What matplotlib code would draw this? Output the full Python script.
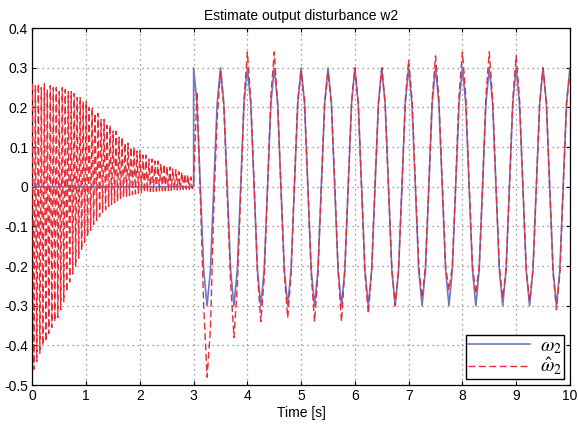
import numpy as np
import matplotlib
matplotlib.use("Agg")
import matplotlib.pyplot as plt

plt.rcParams['font.family'] = ['Liberation Sans', 'DejaVu Sans']
plt.rcParams['axes.unicode_minus'] = False
plt.rcParams['mathtext.fontset'] = 'stix'

# ---------------- data ----------------
title = "Estimate output disturbance w2"
xlabel = "Time [s]"
labels = [r"$\omega_2$", r"$\hat{\omega}_2$"]
x_ticks = [0, 1, 2, 3, 4, 5, 6, 7, 8, 9, 10]
y_ticks = [-0.5, -0.4, -0.3, -0.2, -0.1, 0, 0.1, 0.2, 0.3, 0.4]
y_ticklabels = ["-0.5", "-0.4", "-0.3", "-0.2", "-0.1", "0", "0.1", "0.2", "0.3", "0.4"]

# true disturbance: zero until t=3, then sinusoid sampled every 1/16 s
w2_t_pre = [0.0, 3.0]
w2_pre = [0.0, 0.0]
w2_dt = 0.0625
w2_post = [
    0.30, 0.21, 0.00, -0.21, -0.30, -0.21, 0.00, 0.21,
    0.30, 0.21, 0.00, -0.21, -0.30, -0.21, 0.00, 0.21,
    0.30, 0.21, 0.00, -0.21, -0.30, -0.21, 0.00, 0.21,
    0.30, 0.21, 0.00, -0.21, -0.30, -0.21, 0.00, 0.21,
    0.30, 0.21, 0.00, -0.21, -0.30, -0.21, 0.00, 0.21,
    0.30, 0.21, 0.00, -0.21, -0.30, -0.21, 0.00, 0.21,
    0.30, 0.21, 0.00, -0.21, -0.30, -0.21, 0.00, 0.21,
    0.30, 0.21, 0.00, -0.21, -0.30, -0.21, 0.00, 0.21,
    0.30, 0.21, 0.00, -0.21, -0.30, -0.21, 0.00, 0.21,
    0.30, 0.21, 0.00, -0.21, -0.30, -0.21, 0.00, 0.21,
    0.30, 0.21, 0.00, -0.21, -0.30, -0.21, 0.00, 0.21,
    0.30, 0.21, 0.00, -0.21, -0.30, -0.21, 0.00, 0.21,
    0.30, 0.21, 0.00, -0.21, -0.30, -0.21, 0.00, 0.21,
    0.30, 0.21, 0.00, -0.21, -0.30, -0.21, 0.00, 0.21,
    0.30,
]

# estimate before t=3: fast oscillation, peaks and troughs
est_osc_dt = 0.0556
est_peaks = [
    0.26, 0.255, 0.26, 0.25, 0.26, 0.245, 0.255, 0.25, 0.25, 0.24,
    0.25, 0.245, 0.24, 0.24, 0.235, 0.225, 0.225, 0.215, 0.215, 0.20,
    0.20, 0.185, 0.185, 0.17, 0.17, 0.155, 0.155, 0.14, 0.14, 0.125,
    0.125, 0.11, 0.11, 0.10, 0.10, 0.09, 0.09, 0.08, 0.08, 0.07,
    0.07, 0.065, 0.065, 0.058, 0.057, 0.052, 0.05, 0.045, 0.043, 0.038,
    0.037, 0.032, 0.03, 0.025,
]
est_troughs = [
    -0.46, -0.44, -0.42, -0.40, -0.39, -0.37, -0.355, -0.34, -0.33, -0.31,
    -0.29, -0.265, -0.24, -0.22, -0.20, -0.18, -0.16, -0.14, -0.125, -0.11,
    -0.095, -0.085, -0.075, -0.065, -0.058, -0.05, -0.045, -0.04, -0.035, -0.03,
    -0.027, -0.024, -0.022, -0.02, -0.018, -0.016, -0.015, -0.014, -0.013, -0.012,
    -0.012, -0.011, -0.010, -0.010, -0.010, -0.009, -0.009, -0.008, -0.008, -0.007,
    -0.007, -0.006, -0.006, -0.005,
]
# estimate after t=3, sampled every 1/16 s
est_post = [
    0.01, 0.24, -0.03, -0.30, -0.48, -0.36, -0.05, 0.17,
    0.29, 0.20, -0.02, -0.24, -0.38, -0.25, -0.02, 0.22,
    0.34, 0.22, 0.01, -0.22, -0.34, -0.23, 0.00, 0.23,
    0.34, 0.21, -0.01, -0.22, -0.33, -0.22, 0.01, 0.22,
    0.29, 0.22, 0.00, -0.22, -0.34, -0.22, 0.00, 0.21,
    0.29, 0.21, 0.01, -0.21, -0.34, -0.21, 0.00, 0.21,
    0.30, 0.21, -0.01, -0.22, -0.32, -0.21, 0.01, 0.21,
    0.30, 0.21, 0.00, -0.21, -0.30, -0.21, 0.00, 0.22,
    0.32, 0.22, 0.01, -0.20, -0.28, -0.20, 0.00, 0.22,
    0.33, 0.22, 0.01, -0.20, -0.26, -0.20, 0.01, 0.23,
    0.34, 0.23, 0.01, -0.20, -0.27, -0.20, 0.00, 0.23,
    0.34, 0.22, 0.00, -0.20, -0.28, -0.21, 0.00, 0.22,
    0.33, 0.22, 0.00, -0.21, -0.29, -0.21, 0.00, 0.21,
    0.30, 0.21, -0.01, -0.22, -0.31, -0.22, 0.00, 0.21,
    0.29,
]

# ---------------- assemble series ----------------
w2_t = list(w2_t_pre) + list(3.0 + w2_dt * np.arange(len(w2_post)))
w2_v = list(w2_pre) + list(w2_post)

est_t, est_v = [], []
for k in range(len(est_peaks)):
    est_t.append(k * est_osc_dt)
    est_v.append(est_peaks[k])
    est_t.append((k + 0.5) * est_osc_dt)
    est_v.append(est_troughs[k])
est_t += list(3.0 + w2_dt * np.arange(len(est_post)))
est_v += list(est_post)

# ---------------- plot ----------------
fig = plt.figure(figsize=(5.78, 4.26), dpi=100)
ax = fig.add_axes([0.056, 0.096, 0.930, 0.838])

ax.plot(w2_t, w2_v, color='#6f78c8', lw=1.2, label=labels[0], zorder=3)
ax.plot(est_t, est_v, color='#ea2a35', lw=1.0, ls=(0, (5, 2.5)), label=labels[1], zorder=4)

ax.set_xlim(0, 10)
ax.set_ylim(-0.5, 0.4)
ax.set_xticks(x_ticks)
ax.set_yticks(y_ticks)
ax.set_yticklabels(y_ticklabels)
ax.tick_params(direction='in', length=3, labelsize=10, top=True, right=True,
               labeltop=False, labelright=False, pad=3)
ax.grid(True, color='#808080', ls=(0, (1, 3)), lw=0.9)
for s in ax.spines.values():
    s.set_color('black')
    s.set_linewidth(0.9)

ax.set_title(title, fontsize=10, pad=6)
ax.set_xlabel(xlabel, fontsize=10, labelpad=2)

leg = ax.legend(loc='lower right', fontsize=14, frameon=True, fancybox=False,
                edgecolor='black', framealpha=1, borderpad=0.1, labelspacing=0.0,
                handlelength=3.2, handletextpad=0.5, borderaxespad=0.3)
leg.get_frame().set_linewidth(1.0)

fig.savefig("out.png", dpi=100)
